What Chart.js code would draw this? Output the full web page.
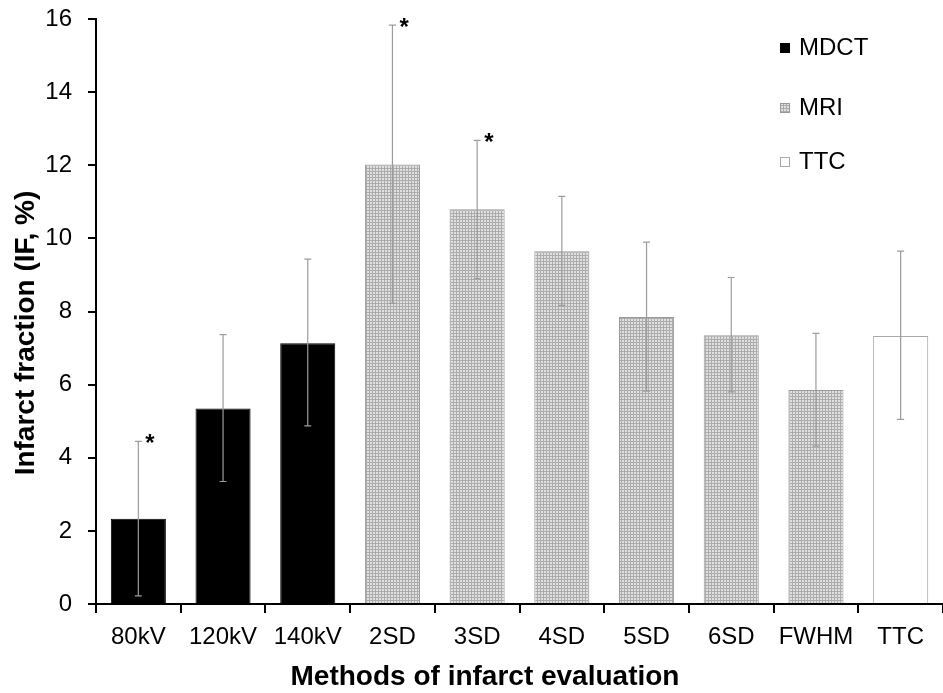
<!DOCTYPE html>
<html>
<head>
<meta charset="utf-8">
<script src="https://cdn.jsdelivr.net/npm/chart.js@4"></script>
<style>
  html, body { margin: 0; padding: 0; background: #fff; }
  #wrap { width: 943px; height: 693px; }
</style>
</head>
<body>
<div id="wrap"><canvas id="ifChart" width="943" height="693"></canvas></div>
<script>
// values
const methods = ['80kV', '120kV', '140kV', '2SD', '3SD', '4SD', '5SD', '6SD', 'FWHM', 'TTC'];
const infarctFraction = [2.33, 5.35, 7.13, 12.02, 10.8, 9.65, 7.85, 7.35, 5.85, 7.33];
const errLow = [0.22, 3.35, 4.87, 8.22, 8.9, 8.17, 5.82, 5.8, 4.32, 5.05];
const errHigh = [4.45, 7.37, 9.43, 15.83, 12.68, 11.15, 9.9, 8.93, 7.4, 9.65];
const groups = ['MDCT', 'MDCT', 'MDCT', 'MRI', 'MRI', 'MRI', 'MRI', 'MRI', 'MRI', 'TTC'];
const starred = [true, false, false, true, true, false, false, false, false, false];
const legendNames = ['MDCT', 'MRI', 'TTC'];
const xTitle = 'Methods of infarct evaluation';
const yTitle = 'Infarct fraction (IF, %)';

const FONT = '"Liberation Sans", Arial, sans-serif';

// dotted grey texture for the MRI bars
function makeDots() {
  const c = document.createElement('canvas');
  c.width = 3; c.height = 3;
  const g = c.getContext('2d');
  g.fillStyle = '#acacac';
  g.fillRect(0, 0, 3, 3);
  g.fillStyle = '#e0e0e0';
  g.fillRect(1, 1, 2, 2);
  return g.createPattern(c, 'repeat');
}
const ctx0 = document.getElementById('ifChart').getContext('2d');
const dots = makeDots();

const fillFor = { MDCT: '#000000', MRI: dots, TTC: '#ffffff' };
const edgeFor = { MDCT: '#000000', MRI: '#9a9a9a', TTC: '#a8a8a8' };

// error bars + asterisks
const errorBars = {
  id: 'errorBars',
  afterDatasetsDraw(chart) {
    const { ctx, scales: { x, y } } = chart;
    ctx.save();
    ctx.strokeStyle = '#9c9c9c';
    ctx.lineWidth = 1.2;
    methods.forEach((m, i) => {
      const px = x.getPixelForValue(i);
      const top = y.getPixelForValue(errHigh[i]);
      const bot = y.getPixelForValue(errLow[i]);
      ctx.beginPath();
      ctx.moveTo(px, top); ctx.lineTo(px, bot);
      ctx.moveTo(px - 3.5, top); ctx.lineTo(px + 3.5, top);
      ctx.moveTo(px - 3.5, bot); ctx.lineTo(px + 3.5, bot);
      ctx.stroke();
      if (starred[i]) {
        ctx.fillStyle = '#000';
        ctx.font = 'bold 24px ' + FONT;
        ctx.textAlign = 'left';
        ctx.textBaseline = 'alphabetic';
        ctx.fillText('*', px + 7, top + 10);
      }
    });
    ctx.restore();
  }
};

// legend in the top right corner, plus the two axis titles
const cornerLegend = {
  id: 'cornerLegend',
  afterDraw(chart) {
    const { ctx } = chart;
    const rows = [48, 108, 162];
    ctx.save();
    ctx.font = '24px ' + FONT;
    ctx.textBaseline = 'middle';
    ctx.textAlign = 'left';
    legendNames.forEach((name, i) => {
      const cy = rows[i];
      ctx.fillStyle = fillFor[name];
      ctx.fillRect(780, cy - 5, 10, 10);
      ctx.strokeStyle = edgeFor[name];
      ctx.lineWidth = 1;
      ctx.strokeRect(780.5, cy - 4.5, 9, 9);
      ctx.fillStyle = '#000';
      ctx.fillText(name, 799, cy);
    });

    ctx.font = 'bold 28px ' + FONT;
    ctx.textAlign = 'center';
    ctx.textBaseline = 'alphabetic';
    ctx.fillText(xTitle, 485, 685);

    ctx.translate(34, 333);
    ctx.rotate(-Math.PI / 2);
    ctx.fillText(yTitle, 0, 0);
    ctx.restore();
  }
};

new Chart(ctx0, {
  type: 'bar',
  data: {
    labels: methods,
    datasets: [{
      data: infarctFraction,
      backgroundColor: groups.map(g => fillFor[g]),
      borderColor: groups.map(g => edgeFor[g]),
      borderWidth: 1,
      barPercentage: 0.65,
      categoryPercentage: 1.0
    }]
  },
  options: {
    responsive: false,
    animation: false,
    devicePixelRatio: 1,
    layout: { padding: { top: 19, right: 0, left: 0, bottom: 0 } },
    plugins: { legend: { display: false }, tooltip: { enabled: false } },
    scales: {
      x: {
        grid: { display: true, drawOnChartArea: false, color: '#000', tickLength: 9, lineWidth: 2 },
        border: { color: '#000', width: 2 },
        ticks: { color: '#000', font: { family: FONT, size: 24 }, padding: 10, maxRotation: 0, autoSkip: false },
        afterFit(s) { s.height = 89; s.paddingLeft = 0; s.paddingRight = 0; }
      },
      y: {
        min: 0, max: 16,
        grid: { display: true, drawOnChartArea: false, color: '#000', tickLength: 8, lineWidth: 2 },
        border: { color: '#000', width: 2 },
        ticks: { stepSize: 2, color: '#000', font: { family: FONT, size: 24 }, padding: 16 },
        afterFit(s) { s.width = 96; s.paddingTop = 0; s.paddingBottom = 0; }
      }
    }
  },
  plugins: [errorBars, cornerLegend]
});
</script>
</body>
</html>
